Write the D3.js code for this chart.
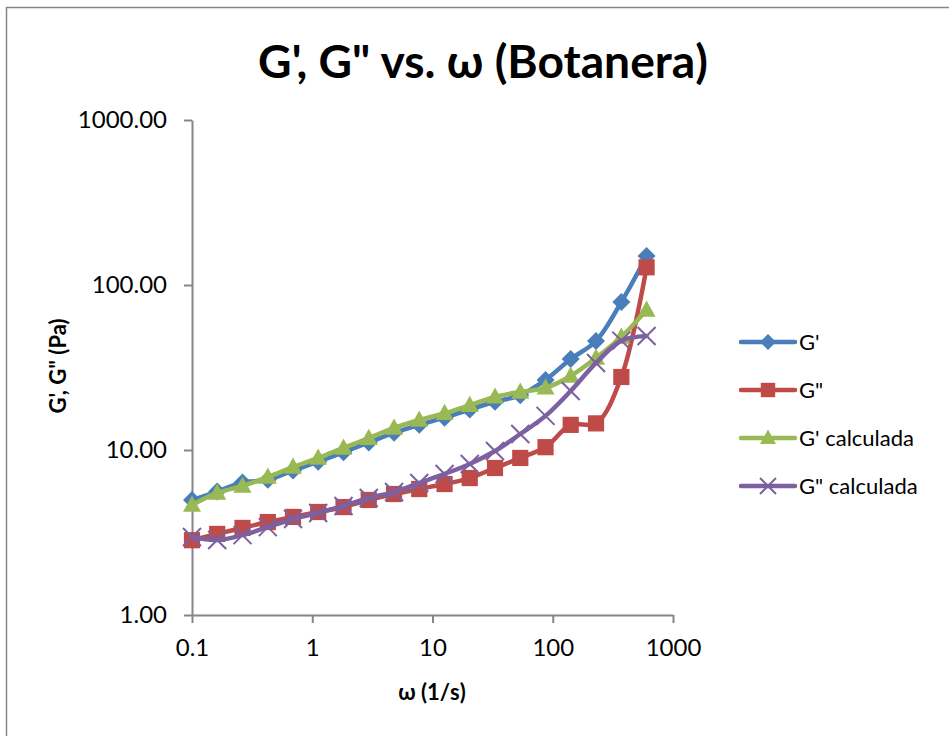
<!DOCTYPE html>
<html>
<head>
<meta charset="utf-8">
<script src="https://cdn.jsdelivr.net/npm/d3@7"></script>
<style>
    body { margin: 0; background: #fff; }
    svg { display: block; }
    text { font-family: Lato, 'Open Sans', sans-serif; fill: #000; }
</style>
</head>
<body>
<div id="chart"></div>
<script>
// angular frequency (1/s)
const omega = [0.1, 0.162, 0.263, 0.427, 0.692, 1.12, 1.82, 2.95, 4.79, 7.76,
    12.6, 20.4, 33.1, 53.7, 87.1, 141, 229, 372, 603];
const gPrime = [4.97, 5.6, 6.35, 6.6, 7.5, 8.5, 9.7, 11.1, 12.7, 14.2,
    15.7, 17.6, 19.6, 21.5, 26.6, 35.6, 45.8, 78.9, 150];
const gDouble = [2.84, 3.1, 3.37, 3.66, 3.93, 4.21, 4.51, 4.98, 5.41, 5.8,
    6.22, 6.76, 7.78, 8.95, 10.4, 14.2, 14.5, 27.7, 128];
const gPrimeCalc = [4.64, 5.49, 6.05, 6.86, 7.88, 8.95, 10.3, 11.8, 13.6, 15.2,
    16.7, 18.7, 21.0, 22.5, 23.8, 28.1, 36.1, 48.4, 70.5];
const gDoubleCalc = [2.97, 2.85, 3.05, 3.41, 3.82, 4.15, 4.58, 5.12, 5.56, 6.31,
    7.16, 8.23, 9.86, 12.5, 16.1, 22.8, 33.7, 46, 49.1];

const xTicks = [0.1, 1, 10, 100, 1000];
const yTicks = [1, 10, 100, 1000];

const seriesNames = ["G'", 'G"', "G' calculada", 'G" calculada'];
const seriesValues = [gPrime, gDouble, gPrimeCalc, gDoubleCalc];
const seriesColors = ['#4a7ebb', '#be4b48', '#98b954', '#7d60a0'];
const seriesMarkers = ['diamond', 'square', 'triangle', 'cross'];

const width = 949, height = 736;
const plot = {left: 192, right: 673, top: 120, bottom: 615};

const svg = d3.select('#chart').append('svg')
    .attr('width', width)
    .attr('height', height);

// chart area border (only left / top edges fall inside the window)
svg.append('rect')
    .attr('x', 6.5).attr('y', 7.5)
    .attr('width', 980).attr('height', 760)
    .attr('fill', '#fff')
    .attr('stroke', '#868686')
    .attr('stroke-width', 1.5);

let x = d3.scaleLog().domain([0.1, 1000]).range([plot.left, plot.right]);
let y = d3.scaleLog().domain([1, 1000]).range([plot.bottom, plot.top]);

// axes
let yAxis = d3.axisLeft(y)
    .tickValues(yTicks)
    .tickFormat(d3.format('.2f'))
    .tickSizeInner(8).tickSizeOuter(0)
    .tickPadding(17);
let xAxis = d3.axisBottom(x)
    .tickValues(xTicks)
    .tickFormat(d => d3.format('~g')(d))
    .tickSizeInner(8).tickSizeOuter(0)
    .tickPadding(16);

let gy = svg.append('g').attr('transform', 'translate(' + plot.left + ',0)').call(yAxis);
let gx = svg.append('g').attr('transform', 'translate(0,' + plot.bottom + ')').call(xAxis);
[gx, gy].forEach(function (g) {
    g.selectAll('path, line').attr('stroke', '#868686').attr('stroke-width', 2);
    g.selectAll('text')
        .style('font-family', "Lato, 'Open Sans', sans-serif")
        .style('font-size', '24px')
        .attr('fill', '#000');
});

// marker shapes
function drawMarker(sel, type, color, size) {
    let s = size / 2;
    if (type === 'diamond') {
        sel.append('path')
            .attr('d', 'M0,' + (-s) + 'L' + s + ',0L0,' + s + 'L' + (-s) + ',0Z')
            .attr('fill', color);
    } else if (type === 'square') {
        sel.append('rect')
            .attr('x', -s * 0.9).attr('y', -s * 0.9)
            .attr('width', s * 1.8).attr('height', s * 1.8)
            .attr('fill', color);
    } else if (type === 'triangle') {
        sel.append('path')
            .attr('d', 'M0,' + (-s * 1.05) + 'L' + s + ',' + (s * 0.75) + 'L' + (-s) + ',' + (s * 0.75) + 'Z')
            .attr('fill', color);
    } else {
        sel.append('path')
            .attr('d', 'M' + (-s) + ',' + (-s) + 'L' + s + ',' + s + 'M' + s + ',' + (-s) + 'L' + (-s) + ',' + s)
            .attr('stroke', color)
            .attr('stroke-width', 2)
            .attr('fill', 'none');
    }
}

let line = d3.line()
    .x(d => x(d[0]))
    .y(d => y(d[1]))
    .curve(d3.curveCatmullRom.alpha(0.5));

seriesValues.forEach(function (vals, i) {
    let pts = omega.map((w, j) => [w, vals[j]]);
    let g = svg.append('g');
    g.append('path')
        .datum(pts)
        .attr('d', line)
        .attr('fill', 'none')
        .attr('stroke', seriesColors[i])
        .attr('stroke-width', 4.5)
        .attr('stroke-linejoin', 'round')
        .attr('stroke-linecap', 'round');
    g.selectAll('.marker')
        .data(pts)
        .enter().append('g')
        .classed('marker', true)
        .attr('transform', d => 'translate(' + x(d[0]) + ',' + y(d[1]) + ')')
        .each(function () {
            drawMarker(d3.select(this), seriesMarkers[i], seriesColors[i], 18);
        });
});

// title
let title = svg.append('text')
    .attr('x', 483).attr('y', 78)
    .attr('text-anchor', 'middle')
    .style('font-weight', 'bold')
    .style('font-size', '40px')
    .text('G\', G" vs. ω (Botanera)');
// fit title to the width seen in the reference
let tw = title.node().getComputedTextLength();
title.style('font-size', (40 * 450 / tw) + 'px');

svg.append('text')
    .attr('x', 432).attr('y', 700)
    .attr('text-anchor', 'middle')
    .style('font-weight', 'bold')
    .style('font-size', '22px')
    .text('ω (1/s)');

svg.append('text')
    .attr('transform', 'translate(66,366) rotate(-90)')
    .attr('text-anchor', 'middle')
    .style('font-weight', 'bold')
    .style('font-size', '22px')
    .text('G\', G" (Pa)');

// legend
let legend = svg.append('g');
seriesNames.forEach(function (name, i) {
    let ly = 342 + i * 48;
    let item = legend.append('g').attr('transform', 'translate(0,' + ly + ')');
    item.append('line')
        .attr('x1', 741).attr('x2', 795)
        .attr('y1', 0).attr('y2', 0)
        .attr('stroke', seriesColors[i])
        .attr('stroke-width', 4.5)
        .attr('stroke-linecap', 'round');
    let m = item.append('g').attr('transform', 'translate(768,0)');
    drawMarker(m, seriesMarkers[i], seriesColors[i], 16);
    item.append('text')
        .attr('x', 799).attr('y', 0)
        .attr('dy', '0.35em')
        .style('font-size', '22px')
        .text(name);
});
</script>
</body>
</html>
